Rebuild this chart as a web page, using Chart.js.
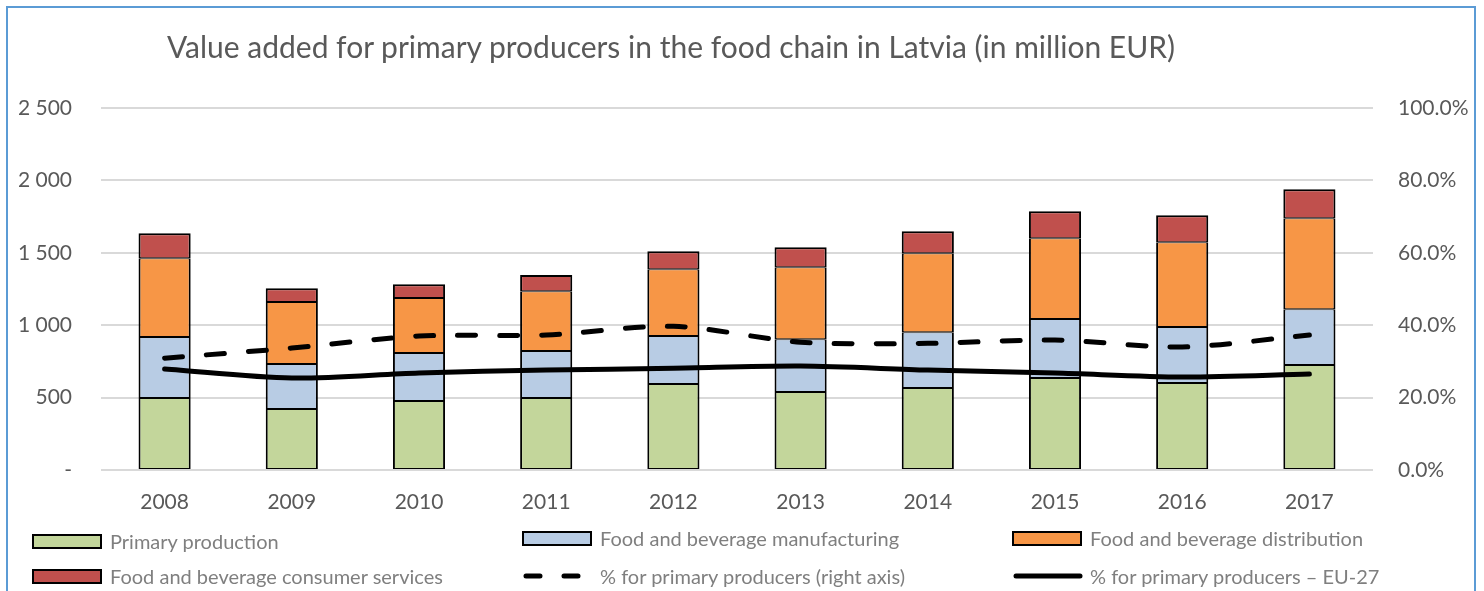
<!DOCTYPE html>
<html>
<head>
<meta charset="utf-8">
<script src="https://cdn.jsdelivr.net/npm/chart.js@4.4.1/dist/chart.umd.min.js"></script>
<style>
    body { margin: 0; background: #fff; font-family: Lato, "Open Sans", sans-serif; }
    #wrap { position: relative; width: 1484px; height: 591px; overflow: hidden; }
    #frame { position: absolute; left: 6px; top: 6px; width: 1466px; height: 700px; border: 2px solid #5B9BD5; }
    #title { position: absolute; left: 0; width: 1342px; top: 28px; text-align: center; font-size: 30px; color: #595959; white-space: nowrap; }
    .leg { position: absolute; display: flex; align-items: center; font-size: 20px; color: #7F7F7F; white-space: nowrap; }
    .leg .box { width: 70px; height: 15px; box-sizing: border-box; border: 2px solid #000; margin-right: 8px; }
    .leg canvas { margin-right: 6px; }
    canvas#chart { position: absolute; left: 0; top: 0; }
</style>
</head>
<body>
<div id="wrap">
    <canvas id="chart" width="1484" height="591"></canvas>
    <div id="frame"></div>
    <div id="title">Value added for primary producers in the food chain in Latvia (in million EUR)</div>
    <div id="legend"></div>
</div>
<script>
// Years on the x axis
const years = ["2008", "2009", "2010", "2011", "2012", "2013", "2014", "2015", "2016", "2017"];

// Stacked bar values, million EUR
const primaryProduction = [497, 421, 476, 497, 594, 538, 566, 635, 600, 725];
const manufacturing = [421, 311, 332, 325, 331, 365, 386, 407, 387, 386];
const distribution = [545, 428, 379, 413, 462, 497, 545, 558, 586, 628];
const consumerServices = [172, 96, 96, 111, 124, 139, 152, 187, 187, 200];

// Share for primary producers, % (right axis)
const sharePrimary = [30.9, 33.7, 37.0, 37.3, 39.7, 35.3, 35.0, 35.9, 34.0, 37.3];
const shareEU27 = [27.9, 25.4, 26.8, 27.6, 28.1, 28.7, 27.6, 26.8, 25.7, 26.5];

// Axis ticks
const leftTicks = [0, 500, 1000, 1500, 2000, 2500];
const rightTicks = [0, 20, 40, 60, 80, 100];

const tickFont = { family: "Lato", size: 21 };
const gridColor = "#D9D9D9";

// top segment gets a full top border, inner joins get half on each side
function barSet(label, data, color, isTop) {
    return {
        type: "bar",
        label: label,
        data: data,
        backgroundColor: color,
        borderColor: "#000",
        borderWidth: { left: 2, right: 2, top: isTop ? 2 : 1, bottom: 1 },
        borderSkipped: false,
        yAxisID: "y",
        stack: "food",
        order: 2,
        barPercentage: 0.41,
        categoryPercentage: 1
    };
}

const datasets = [
    barSet("Primary production", primaryProduction, "#C3D69B", false),
    barSet("Food and beverage manufacturing", manufacturing, "#B8CCE4", false),
    barSet("Food and beverage distribution", distribution, "#F79646", false),
    barSet("Food and beverage consumer services", consumerServices, "#C0504D", true),
    {
        type: "line",
        label: "% for primary producers (right axis)",
        data: sharePrimary,
        borderColor: "#000",
        borderWidth: 5,
        borderDash: [18, 24],
        borderCapStyle: "round",
        pointRadius: 0,
        tension: 0.3,
        yAxisID: "y1",
        order: 0
    },
    {
        type: "line",
        label: "% for primary producers \u2013 EU-27",
        data: shareEU27,
        borderColor: "#000",
        borderWidth: 5,
        borderCapStyle: "round",
        pointRadius: 0,
        tension: 0.3,
        yAxisID: "y1",
        order: 0
    }
];

new Chart(document.getElementById("chart").getContext("2d"), {
    data: { labels: years, datasets: datasets },
    options: {
        responsive: false,
        animation: false,
        layout: { padding: { top: 108, left: 0, right: 0, bottom: 0 } },
        plugins: { legend: { display: false }, tooltip: { enabled: false } },
        scales: {
            x: {
                stacked: true,
                grid: { display: false },
                border: { display: false },
                ticks: { color: "#595959", font: tickFont, padding: 12 },
                afterFit: (scale) => { scale.height = 121; }
            },
            y: {
                stacked: true,
                position: "left",
                min: 0,
                max: 2500,
                afterBuildTicks: (scale) => { scale.ticks = leftTicks.map(v => ({ value: v })); },
                grid: { color: gridColor, lineWidth: 2, drawTicks: false },
                border: { display: false },
                ticks: {
                    color: "#595959",
                    font: tickFont,
                    padding: 29,
                    callback: (v) => v === 0 ? "-" : String(v).replace(/\B(?=(\d{3})+(?!\d))/g, " ")
                },
                afterFit: (scale) => { scale.width = 101; }
            },
            y1: {
                position: "right",
                min: 0,
                max: 100,
                afterBuildTicks: (scale) => { scale.ticks = rightTicks.map(v => ({ value: v })); },
                grid: { display: false, drawTicks: false },
                border: { display: false },
                ticks: {
                    color: "#595959",
                    font: tickFont,
                    padding: 25,
                    callback: (v) => v.toFixed(1) + "%"
                },
                afterFit: (scale) => { scale.width = 111; }
            }
        }
    }
});

// Legend in three columns, two rows, built from the datasets
const legendPos = [
    [32, 541], [522, 538], [1012, 538],
    [32, 576], [522, 576], [1012, 576]
];
const legendEl = document.getElementById("legend");
datasets.forEach((ds, i) => {
    const item = document.createElement("div");
    item.className = "leg";
    item.style.left = legendPos[i][0] + "px";
    item.style.top = (legendPos[i][1] - 12) + "px";
    item.style.height = "24px";
    if (ds.type === "bar") {
        const box = document.createElement("div");
        box.className = "box";
        box.style.background = ds.backgroundColor;
        item.appendChild(box);
    } else {
        const c = document.createElement("canvas");
        c.width = 72; c.height = 12;
        const g = c.getContext("2d");
        g.strokeStyle = "#000";
        g.lineWidth = 5;
        g.lineCap = "round";
        if (ds.borderDash) g.setLineDash([14, 24]);
        g.beginPath();
        g.moveTo(4, 6);
        g.lineTo(68, 6);
        g.stroke();
        item.appendChild(c);
    }
    const txt = document.createElement("span");
    txt.textContent = ds.label;
    item.appendChild(txt);
    legendEl.appendChild(item);
});
</script>
</body>
</html>
